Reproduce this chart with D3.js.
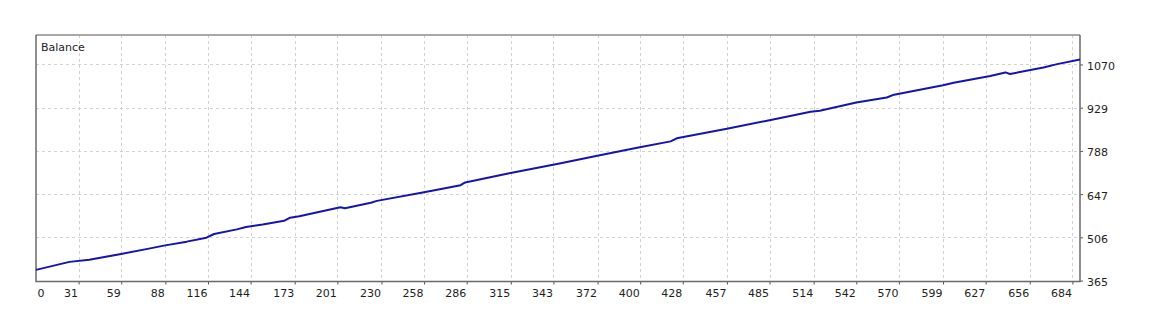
<!DOCTYPE html>
<html>
<head>
<meta charset="utf-8">
<script src="https://cdn.jsdelivr.net/npm/d3@7"></script>
<style>
  body { margin: 0; background: #fff; }
  svg text { font-family: "DejaVu Sans", Verdana, sans-serif; font-size: 11px; fill: #1e1e1e; }
</style>
</head>
<body>
<script>
  var title = "Balance";

  // deal number / balance
  var deals   = [3, 25, 38, 58, 78, 87, 102, 115, 120, 135, 141, 152, 166, 170, 176, 203, 206, 223, 227, 258,
                 282, 285, 314, 347, 371, 398, 420, 424, 457, 485, 512, 518, 542, 562, 566, 599, 606, 630, 640, 643,
                 665, 674, 689];
  var balance = [400, 426, 433, 451, 470, 479, 492, 505, 517, 532, 540, 548, 560, 570, 575, 604, 601, 619, 625, 653,
                 676, 685, 715, 747, 771, 798, 819, 829, 860, 888, 916, 919, 946, 962, 970, 1002, 1010, 1032, 1044, 1039,
                 1060, 1071, 1086];

  var xTicks = [0, 31, 59, 88, 116, 144, 173, 201, 230, 258, 286, 315, 343, 372, 400, 428, 457, 485, 514, 542,
                570, 599, 627, 656, 684];
  var yTicks = [365, 506, 647, 788, 929, 1070];

  var width = 1149, height = 319;
  var margin = {top: 35, right: 69, bottom: 37.5, left: 36};
  var w = width - margin.left - margin.right,
      h = height - margin.top - margin.bottom;

  var x = d3.scaleLinear().domain([3, 689]).range([0, w]);
  var y = d3.scaleLinear().domain([362, 1166]).range([h, 0]);

  var svg = d3.select("body").append("svg")
      .attr("width", width)
      .attr("height", height);

  var g = svg.append("g")
      .attr("transform", "translate(" + margin.left + "," + margin.top + ")");

  // grid
  g.append("g").selectAll("line")
    .data(xTicks.filter(function(d) { return x(d) > 1; }))
    .enter().append("line")
      .attr("x1", function(d) { return Math.round(x(d)) + 0.5; })
      .attr("x2", function(d) { return Math.round(x(d)) + 0.5; })
      .attr("y1", 0)
      .attr("y2", h)
      .attr("stroke", "#d2d2d2")
      .attr("stroke-dasharray", "3,3");

  g.append("g").selectAll("line")
    .data(yTicks.filter(function(d) { return y(d) < h - 2; }))
    .enter().append("line")
      .attr("x1", 0)
      .attr("x2", w)
      .attr("y1", function(d) { return Math.round(y(d)) + 0.5; })
      .attr("y2", function(d) { return Math.round(y(d)) + 0.5; })
      .attr("stroke", "#d2d2d2")
      .attr("stroke-dasharray", "3,3");

  // axis-x
  var ax = g.append("g")
      .attr("transform", "translate(0," + h + ")")
      .call(d3.axisBottom(x).tickValues(xTicks).tickFormat(d3.format("d"))
        .tickSize(3).tickSizeOuter(0).tickPadding(5));
  ax.select(".domain").remove();
  ax.selectAll(".tick line").attr("stroke", "#555")
    .attr("display", function(d) { return d === 0 ? "none" : null; });
  ax.selectAll(".tick text")
    .attr("text-anchor", function(d) { return d === 0 ? "start" : "end"; })
    .attr("x", function(d) { return d === 0 ? x(3) - x(0) + 1 : -1; });

  // axis-y (right)
  var ay = g.append("g")
      .attr("transform", "translate(" + w + ",0)")
      .call(d3.axisRight(y).tickValues(yTicks).tickFormat(d3.format("d"))
        .tickSize(3).tickSizeOuter(0).tickPadding(4));
  ay.select(".domain").remove();
  ay.selectAll(".tick line").attr("stroke", "#555");
  ay.selectAll(".tick text").attr("dy", "0.45em");

  // frame
  g.append("line").attr("x1", 0).attr("x2", w).attr("y1", 0).attr("y2", 0)
    .attr("stroke", "#8c8c8c").attr("stroke-width", 1.5);
  g.append("path")
    .attr("d", "M0,0V" + h + "H" + w + "V0")
    .attr("fill", "none")
    .attr("stroke", "#6a6a6a")
    .attr("stroke-width", 1.5);

  // balance line
  var line = d3.line()
      .x(function(d) { return x(d[0]); })
      .y(function(d) { return y(d[1]); });

  g.append("path")
    .datum(d3.zip(deals, balance))
    .attr("fill", "none")
    .attr("stroke", "#1414b0")
    .attr("stroke-width", 2)
    .attr("stroke-linejoin", "round")
    .attr("d", line);

  g.append("text")
    .attr("x", 5)
    .attr("y", 16)
    .text(title);
</script>
</body>
</html>
